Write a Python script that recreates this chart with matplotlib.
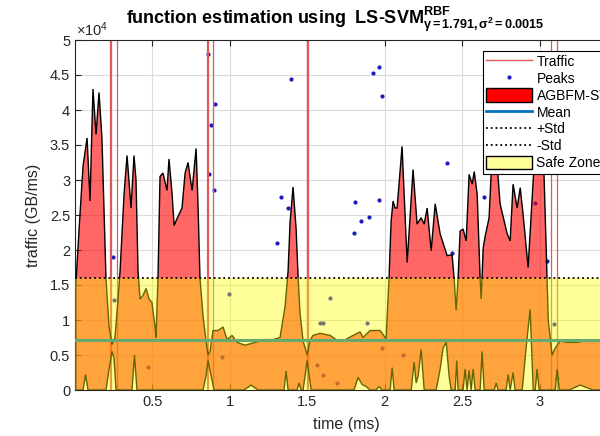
import numpy as np
import matplotlib
matplotlib.use('Agg')
import matplotlib.pyplot as plt
from matplotlib.lines import Line2D
from matplotlib.patches import Patch

plt.rcParams['font.family'] = ['Liberation Sans', 'DejaVu Sans']
plt.rcParams['mathtext.fontset'] = 'custom'
plt.rcParams['mathtext.rm'] = 'Liberation Sans'
plt.rcParams['mathtext.it'] = 'Liberation Sans:italic'
plt.rcParams['mathtext.bf'] = 'Liberation Sans:bold'

### Donnees (trafic en unites de 10^4 GB/ms)
# enveloppe haute de l'estimation AGBFM
up_x = [0.005, 0.032, 0.052, 0.078, 0.097, 0.116, 0.136, 0.155, 0.174, 0.2, 0.22, 0.239, 0.258, 0.278,
        0.291, 0.317, 0.336, 0.362, 0.381, 0.394, 0.407, 0.42, 0.439, 0.459, 0.478, 0.497, 0.517, 0.523,
        0.536, 0.549, 0.568, 0.594, 0.607, 0.627, 0.64, 0.659, 0.691, 0.711, 0.73, 0.756, 0.782, 0.795,
        0.807, 0.827, 0.846, 0.859, 0.872, 0.891, 0.924, 0.956, 0.982, 1.014, 1.047, 1.098, 1.163, 1.227,
        1.279, 1.324, 1.357, 1.376, 1.389, 1.408, 1.428, 1.441, 1.453, 1.473, 1.499, 1.518, 1.537, 1.583,
        1.647, 1.693, 1.731, 1.796, 1.841, 1.86, 1.906, 1.97, 2.009, 2.028, 2.041, 2.054, 2.067, 2.08,
        2.112, 2.145, 2.183, 2.209, 2.235, 2.255, 2.274, 2.3, 2.326, 2.358, 2.403, 2.435, 2.448, 2.461,
        2.474, 2.487, 2.506, 2.526, 2.545, 2.565, 2.578, 2.597, 2.616, 2.623, 2.636, 2.649, 2.674, 2.694,
        2.713, 2.745, 2.791, 2.81, 2.829, 2.855, 2.875, 2.894, 2.926, 2.959, 2.978, 3.023, 3.043, 3.056,
        3.081, 3.101, 3.133, 3.178, 3.243, 3.307, 3.391, 3.5]
up_y = [1.5, 2.5, 3.2, 3.6, 2.7, 4.3, 3.65, 4.25, 3.6, 1.6, 0.9, 0.65, 0.75, 1.3,
        1.7, 2.8, 3.35, 2.6, 3.35, 3.0, 1.7, 1.3, 1.35, 1.45, 1.3, 1.25, 0.9, 0.75,
        1.6, 3.05, 3.1, 2.85, 3.3, 2.8, 2.35, 2.45, 2.6, 3.1, 3.25, 2.85, 3.45, 2.6,
        1.6, 1.05, 0.7, 0.5, 0.55, 0.85, 0.85, 0.9, 0.72, 0.78, 0.68, 0.64, 0.68, 0.72,
        0.72, 0.75, 1.2, 1.7, 2.4, 2.9, 2.3, 1.6, 1.1, 0.7, 0.5, 0.71, 0.78, 0.81,
        0.78, 0.71, 0.7, 0.78, 0.83, 0.75, 0.85, 0.85, 0.73, 1.6, 2.4, 2.7, 2.6, 2.6,
        3.48, 1.82, 3.15, 2.37, 2.46, 2.37, 2.6, 1.99, 2.66, 2.23, 1.92, 1.93, 1.6, 1.14,
        1.6, 2.27, 2.3, 2.13, 3.08, 2.94, 3.12, 2.8, 1.6, 1.3, 2.03, 2.2, 2.46, 3.4,
        3.6, 2.66, 2.23, 2.13, 2.94, 2.6, 2.89, 2.5, 1.75, 3.0, 3.8, 3.5, 2.0, 1.0,
        0.5, 0.6, 0.7, 0.68, 0.68, 0.71, 0.7, 0.7]

# enveloppe basse de l'estimation AGBFM
low_x = [0.005, 0.052, 0.068, 0.084, 0.2, 0.22, 0.239, 0.252, 0.265, 0.368, 0.384, 0.4,
         0.827, 0.846, 0.859, 0.879, 0.898, 1.092, 1.137, 1.182, 1.35, 1.363, 1.376,
         1.434, 1.447, 1.46, 1.473, 1.499, 1.525, 1.802, 1.828, 1.854, 1.88, 1.906,
         1.944, 1.964, 1.983, 2.035, 2.048, 2.061, 2.171, 2.19, 2.203, 2.216, 2.235, 2.255,
         2.332, 2.358, 2.377, 2.397, 2.416, 2.429, 2.455, 2.465, 2.474, 2.506, 2.519, 2.532,
         2.545, 2.558, 2.571, 2.584, 2.616, 2.629, 2.642, 2.707, 2.72, 2.732, 2.784, 2.797,
         2.81, 2.829, 2.842, 2.888, 2.913, 2.939, 2.959, 2.972, 2.984, 2.997, 3.101, 3.114,
         3.127, 3.191, 3.262, 3.346, 3.5]
low_y = [0, 0, 0.22, 0, 0, 0.3, 0.55, 0.45, 0, 0, 0.5, 0,
         0, 0.2, 0.42, 0.2, 0, 0, 0.07, 0, 0, 0.27, 0,
         0, 0.1, 0, 0, 0.42, 0, 0, 0.18, 0.08, 0.05, 0,
         0, 0.05, 0, 0, 0.32, 0, 0, 0.4, 0.1, 0.2, 0.58, 0,
         0, 0.3, 0.6, 0.68, 0.2, 0, 0, 0.42, 0, 0, 0.3, 0,
         0.28, 0, 0.3, 0, 0, 0.55, 0, 0, 0.1, 0, 0, 0.22,
         0, 0.25, 0, 0, 0.6, 1.15, 0, 0, 0.3, 0, 0, 0.3,
         0, 0, 0.07, 0, 0]

# pics de trafic (points)
peaks_x = [0.245, 0.86, 0.904, 0.879, 0.866, 0.898, 1.395, 1.33, 1.376, 1.305, 1.925, 1.964,
           1.983, 1.81, 1.96, 1.85, 1.9, 1.8, 2.4, 2.64, 2.435, 2.97, 3.05, 0.252, 0.47,
           0.995, 0.95, 1.647, 1.583, 1.6, 1.886, 1.98, 2.12, 1.563, 1.6, 1.69, 3.09, 3.11]
peaks_y = [1.9, 4.8, 4.08, 3.79, 3.08, 2.86, 4.44, 2.76, 2.6, 2.1, 4.53, 4.61,
           4.2, 2.69, 2.71, 2.41, 2.47, 2.24, 3.24, 2.76, 1.96, 2.67, 1.85, 1.29, 0.33,
           1.37, 0.47, 1.31, 0.96, 0.96, 0.96, 0.6, 0.5, 0.36, 0.21, 0.1, 0.94, 0.17]

# pointes du trafic brut (hors echelle)
traffic_spikes = [0.224, 0.232, 0.272, 0.855, 0.862, 0.888, 1.495, 1.5, 1.505, 3.075, 3.11]

mean_val = 0.71
std_val = 0.89

labels_legende = ['Traffic', 'Peaks', 'AGBFM-SVM', 'Mean', '+Std', '-Std', 'Safe Zone']
xticks = [0.5, 1, 1.5, 2, 2.5, 3, 3.5]
xtick_labels = ['0.5', '1', '1.5', '2', '2.5', '3', '']
yticks = [0, 0.5, 1, 1.5, 2, 2.5, 3, 3.5, 4, 4.5, 5]
ytick_labels = ['0', '0.5', '1', '1.5', '2', '2.5', '3', '3.5', '4', '4.5', '5']

gris = (0.15, 0.15, 0.15)
bleu_matlab = (0, 0.447, 0.741)
rouge_trafic = (0.88, 0.35, 0.35)

fig = plt.figure(figsize=(6, 4.36), dpi=100)
ax = fig.add_axes([75/600, 46/436, 542/600, 350/436])

x0, x1 = 0, 3.5
ax.plot(peaks_x, peaks_y, '.', color=(0.1, 0.1, 0.75), markersize=4, zorder=1)
ax.vlines(traffic_spikes, 0, 10, color=rouge_trafic, lw=0.9, zorder=1.5)

# zone estimee
poly_x = list(up_x) + list(low_x)[::-1]
poly_y = list(up_y) + list(low_y)[::-1]
ax.fill(poly_x, poly_y, facecolor=(1, 0, 0, 0.6), edgecolor='black', lw=1, zorder=3)

# moyenne (sous la zone jaune)
ax.plot([x0, x1], [mean_val, mean_val], color=bleu_matlab, lw=2.2, zorder=3.5)

# zone de securite
ax.fill_between([x0, x1], mean_val - std_val, mean_val + std_val,
                facecolor=(1, 1, 0, 0.4), edgecolor='none', zorder=4)
ax.plot([x0, x1], [mean_val + std_val] * 2, ':', color='black', lw=1.3, zorder=5)
ax.plot([x0, x1], [mean_val - std_val] * 2, ':', color='black', lw=1.3, zorder=5)

ax.set_xlim(x0, x1)
ax.set_ylim(0, 5)
ax.set_xticks(xticks)
ax.set_xticklabels(xtick_labels)
ax.set_yticks(yticks)
ax.set_yticklabels(ytick_labels)
ax.grid(True, color=(0.86, 0.86, 0.86), lw=0.8)
ax.set_axisbelow(True)
ax.tick_params(direction='in', top=True, right=True, length=4, labelsize=10.5, colors=gris)
for s in ax.spines.values():
    s.set_color(gris)
    s.set_linewidth(0.8)

ax.set_xlabel('time (ms)', fontsize=11.5, color=gris, labelpad=6)
ax.set_ylabel('traffic (GB/ms)', fontsize=11.5, color=gris, labelpad=6)
fig.text(76/600, 1 - 36/436, r'$\times10^4$', fontsize=10.5, color=gris)

titre = (r'function estimation using  LS-SVM'
         r'$^{\mathbf{RBF}}_{\mathbf{\gamma=1.791,\sigma^2=0.0015}}$')
fig.text(126/600, 1 - 24/436, titre, fontsize=13, fontweight='bold', ha='left', va='baseline')

handles = [Line2D([], [], color=rouge_trafic, lw=1),
           Line2D([], [], ls='none', marker='.', color=(0.1, 0.1, 0.75), markersize=4),
           Patch(facecolor='red', edgecolor='black'),
           Line2D([], [], color=bleu_matlab, lw=2),
           Line2D([], [], color='black', ls=':', lw=1.3),
           Line2D([], [], color='black', ls=':', lw=1.3),
           Patch(facecolor=(1, 1, 0.6), edgecolor='black')]
leg = ax.legend(handles, labels_legende, loc='upper left', bbox_to_anchor=(483/600, 1 - 51/436),
                bbox_transform=fig.transFigure, fontsize=10, handlelength=3.3, handleheight=1.1,
                labelspacing=0.18, handletextpad=0.3, borderpad=0.25, borderaxespad=0,
                fancybox=False, framealpha=1, edgecolor='black')
leg.get_frame().set_linewidth(0.8)
leg.set_zorder(10)

fig.savefig('out.png', dpi=100)
